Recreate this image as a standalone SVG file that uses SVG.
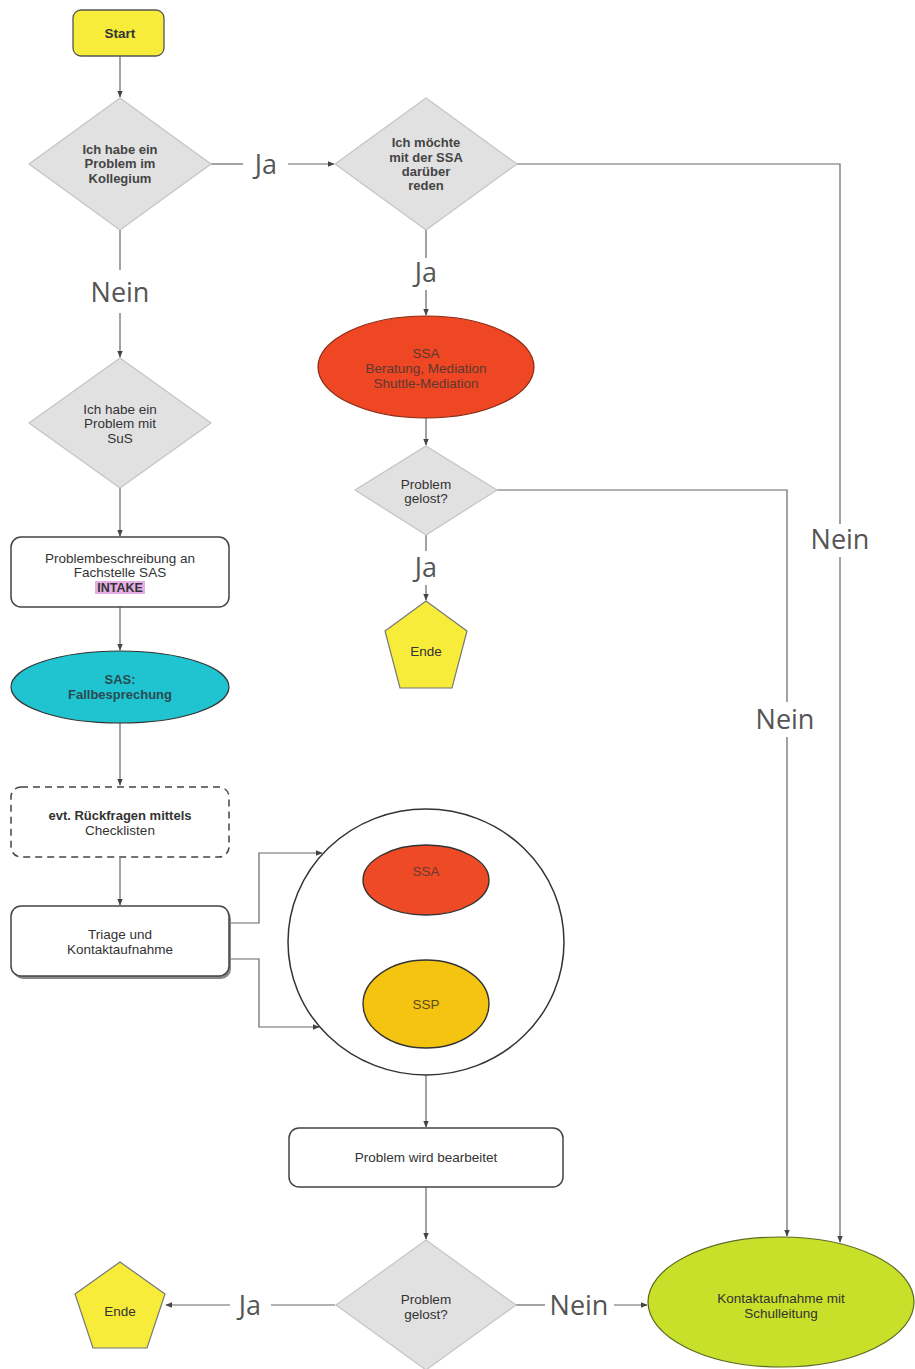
<svg xmlns="http://www.w3.org/2000/svg" width="915" height="1369" viewBox="0 0 915 1369">
<defs>
<marker id="arr" viewBox="0 0 10 10" refX="9" refY="5" markerWidth="7" markerHeight="7" orient="auto" markerUnits="userSpaceOnUse">
<path d="M0,1 L10,5 L0,9 z" fill="#444"/>
</marker>
<style>
.t{font-family:"Liberation Sans",Arial,sans-serif;font-size:13.5px;fill:#333;text-anchor:middle}
.b{font-weight:bold;font-size:13px}
.lbl{font-family:"Open Sans","Liberation Sans",sans-serif;font-size:27px;fill:#555;text-anchor:middle}
.c{fill:none;stroke:#666;stroke-width:1.2}
.ca{fill:none;stroke:#666;stroke-width:1.2;marker-end:url(#arr)}
.dia{fill:#e1e1e1;stroke:#c4c4c4;stroke-width:1.2}
.box{fill:#fff;stroke:#444;stroke-width:1.5}
</style>
</defs>
<rect width="915" height="1369" fill="#fff"/>

<g id="connectors">
<path class="ca" d="M120,56 V97"/>
<path class="c" d="M211,164 H243"/>
<path class="ca" d="M288,164 H334"/>
<path class="c" d="M120,230 V270"/>
<path class="ca" d="M120,313 V357"/>
<path class="c" d="M426,230 V258"/>
<path class="ca" d="M426,290 V315"/>
<path class="c" d="M517,164 H840 V524"/>
<path class="ca" d="M840,557 V1242"/>
<path class="ca" d="M426,418 V445"/>
<path class="c" d="M426,535 V551"/>
<path class="ca" d="M426,585 V600"/>
<path class="c" d="M497,490 H787 V702"/>
<path class="ca" d="M787,737 V1236"/>
<path class="ca" d="M120,488 V536"/>
<path class="ca" d="M120,607 V650"/>
<path class="ca" d="M120,723 V785"/>
<path class="ca" d="M120,858 V905"/>
<path class="ca" d="M229,923 H259 V853 H322"/>
<path class="ca" d="M229,959 H259 V1027 H319"/>
<path class="ca" d="M426,915 V959"/>
<path class="ca" d="M426,1075 V1127"/>
<path class="ca" d="M426,1187 V1239"/>
<path class="c" d="M335,1305 H271"/>
<path class="ca" d="M230,1305 H166"/>
<path class="c" d="M516,1305 H545"/>
<path class="ca" d="M614,1305 H647"/>
<text class="lbl" x="266" y="174">Ja</text>
<text class="lbl" x="120" y="302">Nein</text>
<text class="lbl" x="426" y="282">Ja</text>
<text class="lbl" x="840" y="549">Nein</text>
<text class="lbl" x="426" y="577">Ja</text>
<text class="lbl" x="785" y="729">Nein</text>
<text class="lbl" x="250" y="1315">Ja</text>
<text class="lbl" x="579" y="1315">Nein</text>
</g>

<g id="start">
<rect x="73" y="10" width="91" height="46" rx="8" fill="#f7ec3a" stroke="#555" stroke-width="1.3"/>
<text class="t b" x="120" y="38" style="font-size:13.5px">Start</text>
</g>

<g id="d-kollegium">
<polygon class="dia" points="120,98 211,164 120,230 29,164"/>
<text class="t b" x="120" y="153.5" style="fill:#444">Ich habe ein</text>
<text class="t b" x="120" y="168" style="fill:#444">Problem im</text>
<text class="t b" x="120" y="182.5" style="fill:#444">Kollegium</text>
</g>

<g id="d-ssa">
<polygon class="dia" points="426,98 517,164 426,230 335,164"/>
<text class="t b" x="426" y="147" style="fill:#444">Ich möchte</text>
<text class="t b" x="426" y="161.5" style="fill:#444">mit der SSA</text>
<text class="t b" x="426" y="176" style="fill:#444">darüber</text>
<text class="t b" x="426" y="190" style="fill:#444">reden</text>
</g>

<g id="ssa-beratung">
<ellipse cx="426" cy="367" rx="108" ry="51" fill="#ef4623" stroke="#8a2a14" stroke-width="1.2"/>
<text class="t" x="426" y="357.5" style="fill:#5a3a30">SSA</text>
<text class="t" x="426" y="372.5" style="fill:#5a3a30">Beratung, Mediation</text>
<text class="t" x="426" y="387.5" style="fill:#5a3a30">Shuttle-Mediation</text>
</g>

<g id="d-geloest-1">
<polygon class="dia" points="426,446 497,490 426,535 355,490"/>
<text class="t" x="426" y="488.5">Problem</text>
<text class="t" x="426" y="502.5">gelost?</text>
</g>

<g id="ende-1">
<polygon points="426,601 467,631 452,688 400,688 385,631" fill="#f7ec3a" stroke="#777" stroke-width="1.2"/>
<text class="t" x="426" y="656">Ende</text>
</g>

<g id="d-sus">
<polygon class="dia" points="120,358 211,423 120,488 29,423"/>
<text class="t" x="120" y="413.5">Ich habe ein</text>
<text class="t" x="120" y="427.5">Problem mit</text>
<text class="t" x="120" y="442.5">SuS</text>
</g>

<g id="problembeschreibung">
<rect class="box" x="11" y="537" width="218" height="70" rx="10"/>
<text class="t" x="120" y="562.5">Problembeschreibung an</text>
<text class="t" x="120" y="577">Fachstelle SAS</text>
<rect x="95" y="581" width="50" height="13" fill="#e6aee6"/>
<text class="t b" x="120" y="591.5" style="font-size:12.5px">INTAKE</text>
</g>

<g id="sas-fallbesprechung">
<ellipse cx="120" cy="687" rx="109" ry="36" fill="#1fc4d0" stroke="#333" stroke-width="1.2"/>
<text class="t b" x="120" y="683.5" style="fill:#2b4a50">SAS:</text>
<text class="t b" x="120" y="698.5" style="fill:#2b4a50">Fallbesprechung</text>
</g>

<g id="rueckfragen">
<rect x="11" y="787" width="218" height="70" rx="10" fill="#fff" stroke="#444" stroke-width="1.5" stroke-dasharray="7,5"/>
<text class="t b" x="120" y="819.5">evt. Rückfragen mittels</text>
<text class="t" x="120" y="835">Checklisten</text>
</g>

<g id="triage">
<rect x="13" y="909" width="218" height="70" rx="10" fill="#888"/>
<rect class="box" x="11" y="906" width="218" height="70" rx="10"/>
<text class="t" x="120" y="938.5">Triage und</text>
<text class="t" x="120" y="953.5">Kontaktaufnahme</text>
</g>

<g id="fachstellen">
<ellipse cx="426" cy="942" rx="138" ry="133" fill="#fff" stroke="#333" stroke-width="1.5"/>
</g>

<g id="ssa">
<ellipse cx="426" cy="880" rx="63" ry="35" fill="#ee4a25" stroke="#333" stroke-width="1.4"/>
<text class="t" x="426" y="876" style="fill:#6a3a30">SSA</text>
</g>

<g id="ssp">
<ellipse cx="426" cy="1004" rx="63" ry="44" fill="#f5c410" stroke="#333" stroke-width="1.4"/>
<text class="t" x="426" y="1009" style="fill:#5a4a20">SSP</text>
</g>

<g id="bearbeitet">
<rect class="box" x="289" y="1128" width="274" height="59" rx="10"/>
<text class="t" x="426" y="1162">Problem wird bearbeitet</text>
</g>

<g id="d-geloest-2">
<polygon class="dia" points="426,1240 516,1305 426,1370 336,1305"/>
<text class="t" x="426" y="1303.5">Problem</text>
<text class="t" x="426" y="1318.5">gelost?</text>
</g>

<g id="ende-2">
<polygon points="120,1262 165,1294 147,1348 93,1348 75,1294" fill="#f7ec3a" stroke="#777" stroke-width="1.2"/>
<text class="t" x="120" y="1316">Ende</text>
</g>

<g id="schulleitung">
<ellipse cx="781" cy="1302" rx="133" ry="65" fill="#c8e02a" stroke="#5a6a20" stroke-width="1.2"/>
<text class="t" x="781" y="1302.5">Kontaktaufnahme mit</text>
<text class="t" x="781" y="1317.5">Schulleitung</text>
</g>
</svg>
